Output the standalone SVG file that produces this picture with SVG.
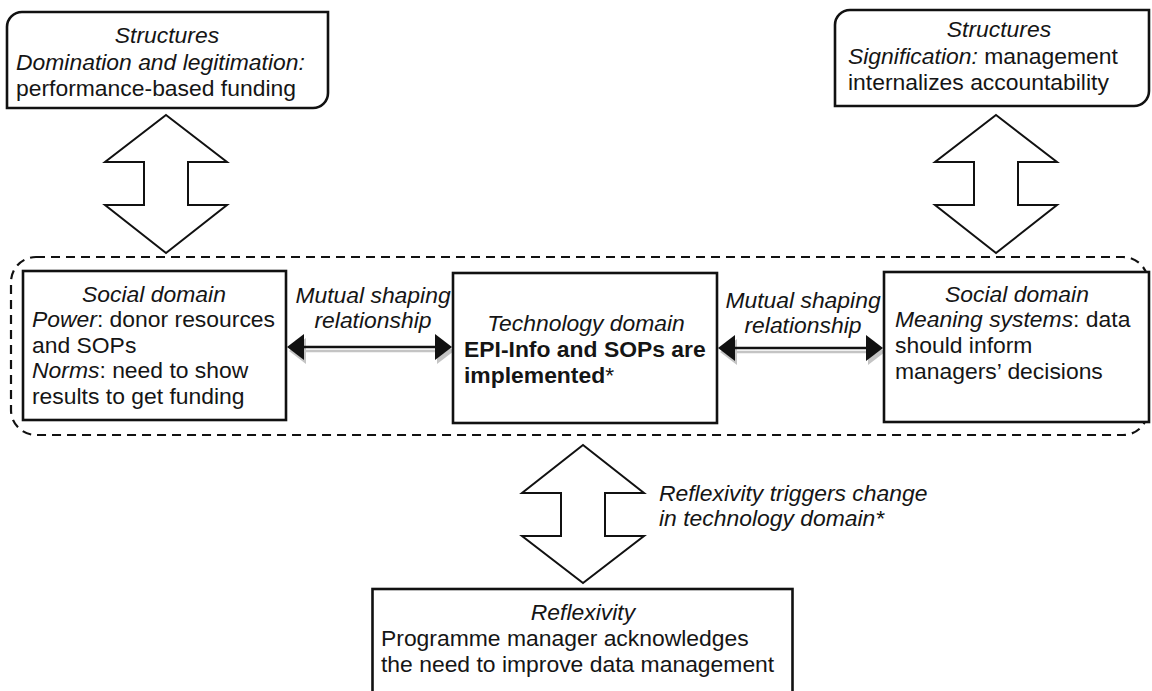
<svg xmlns="http://www.w3.org/2000/svg" xmlns:xlink="http://www.w3.org/1999/xlink" width="1152" height="691" viewBox="0 0 1152 691">
<style>
text{font-family:"Liberation Sans",Arial,sans-serif;font-size:22.9px;fill:#151515}
.i{font-style:italic}
.b{font-weight:bold}
.c{text-anchor:middle}
.box{fill:#fff;stroke:#111;stroke-width:2.6}
.blk{fill:#fff;stroke:#111;stroke-width:2;stroke-linejoin:miter}
.dash{fill:none;stroke:#111;stroke-width:2.2;stroke-dasharray:9 6}
</style>
<defs>
<g id="mutual">
<g transform="translate(2,4)" fill="#c4c4c4" stroke="#c4c4c4">
<line x1="16" y1="0" x2="149" y2="0" stroke-width="2.6"/>
<polygon points="0,0 17,-13 17,13" stroke="none"/>
<polygon points="165,0 148,-13 148,13" stroke="none"/>
</g>
<line x1="16" y1="0" x2="149" y2="0" stroke="#111" stroke-width="2.6"/>
<polygon points="0,0 17,-13 17,13" fill="#111"/>
<polygon points="165,0 148,-13 148,13" fill="#111"/>
</g>
</defs>
<rect width="1152" height="691" fill="#fff"/>
<g id="domain-frame">
<rect class="dash" x="11" y="257" width="1137" height="178" rx="25" ry="25"/>
</g>
<g id="connectors">
<polygon class="blk" points="166,115 227,162 188,162 188,205 227,205 166,253 105,205 144,205 144,162 105,162"/>
<polygon class="blk" points="996,115 1057,162 1018,162 1018,205 1057,205 996,253 935,205 974,205 974,162 935,162"/>
<polygon class="blk" points="583,445 644,493 605,493 605,536 644,536 583,583 522,536 561,536 561,493 522,493"/>
<use xlink:href="#mutual" transform="translate(287,347)"/>
<use xlink:href="#mutual" transform="translate(718,348)"/>
<text class="i c" x="373" y="303">Mutual shaping</text>
<text class="i c" x="373" y="328">relationship</text>
<text class="i c" x="803" y="308">Mutual shaping</text>
<text class="i c" x="803" y="333">relationship</text>
<text class="i" x="659" y="501">Reflexivity triggers change</text>
<text class="i" x="659" y="526">in technology domain*</text>
</g>
<g id="structures-domination">
<path class="box" d="M22,12 H328 V93 A15,15 0 0 1 313,108 H7 V27 A15,15 0 0 1 22,12 Z"/>
<text class="i c" x="167" y="43">Structures</text>
<text class="i" x="16" y="69.5">Domination and legitimation:</text>
<text x="16" y="96">performance-based funding</text>
</g>
<g id="structures-signification">
<path class="box" d="M850,10 H1149 V91 A15,15 0 0 1 1134,106 H835 V25 A15,15 0 0 1 850,10 Z"/>
<text class="i c" x="999" y="37">Structures</text>
<text x="848" y="64"><tspan class="i">Signification:</tspan> management</text>
<text x="848" y="90">internalizes accountability</text>
</g>
<g id="social-left">
<rect class="box" x="23" y="271" width="263" height="149"/>
<text class="i c" x="154" y="302">Social domain</text>
<text x="32" y="327"><tspan class="i">Power</tspan>: donor resources</text>
<text x="32" y="353">and SOPs</text>
<text x="32" y="378"><tspan class="i">Norms</tspan>: need to show</text>
<text x="32" y="404">results to get funding</text>
</g>
<g id="technology">
<rect class="box" x="453" y="273" width="264" height="150"/>
<text class="i c" x="586" y="331">Technology domain</text>
<text class="b" x="464" y="357">EPI-Info and SOPs are</text>
<text class="b" x="464" y="383">implemented<tspan font-weight="normal">*</tspan></text>
</g>
<g id="social-right">
<rect class="box" x="884" y="272" width="265" height="150"/>
<text class="i c" x="1017" y="302">Social domain</text>
<text x="895" y="327"><tspan class="i">Meaning systems</tspan>: data</text>
<text x="895" y="353">should inform</text>
<text x="895" y="379">managers’ decisions</text>
</g>
<g id="reflexivity">
<rect class="box" x="372.5" y="589" width="420" height="130"/>
<text class="i c" x="583" y="620">Reflexivity</text>
<text x="381" y="646">Programme manager acknowledges</text>
<text x="381" y="672">the need to improve data management</text>
</g>
</svg>
